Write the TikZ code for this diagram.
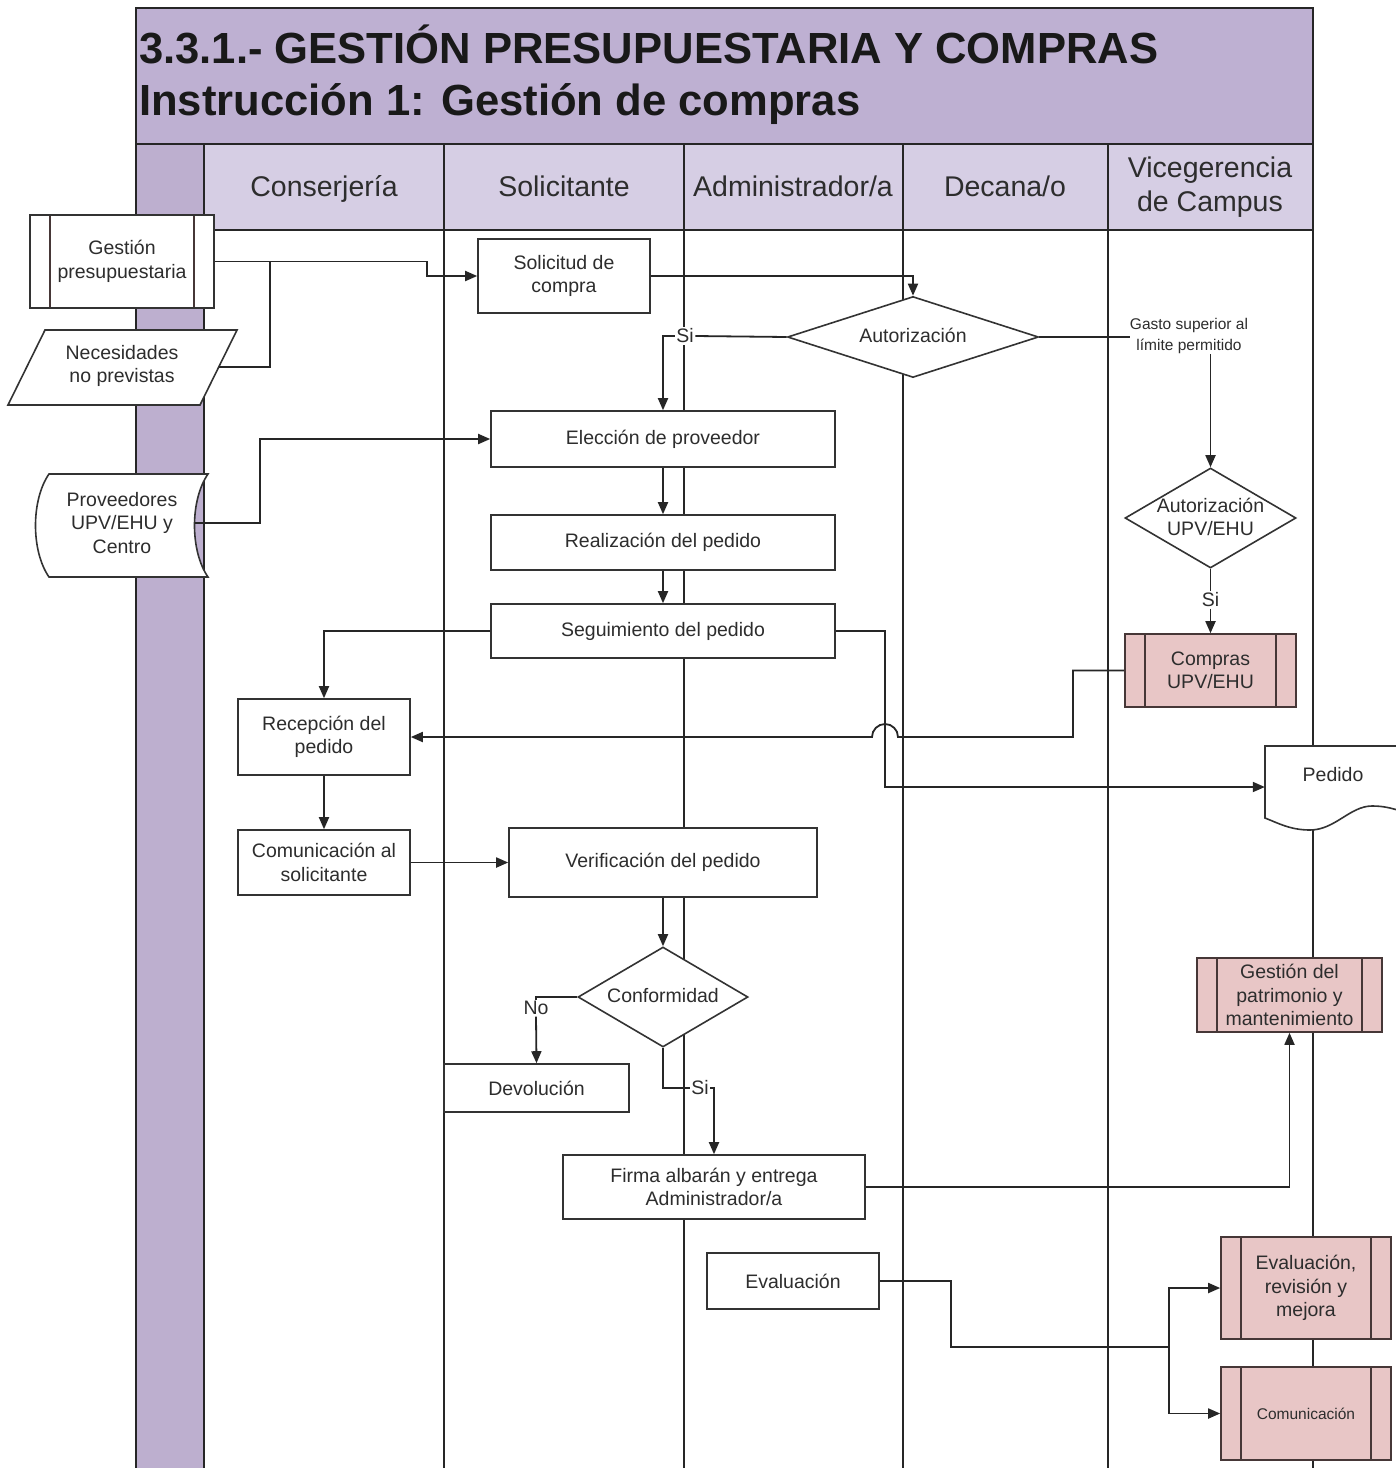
\documentclass[tikz,border=0pt]{standalone}
\usepackage{fontspec}
\setmainfont{Liberation Sans}
\usetikzlibrary{arrows.meta,shapes.geometric,calc}
\definecolor{titlebg}{RGB}{190,176,210}
\definecolor{headbg}{RGB}{214,206,228}
\definecolor{stripbg}{RGB}{189,175,207}
\definecolor{pinkbg}{RGB}{232,198,198}
\definecolor{pinkln}{RGB}{70,55,55}
\definecolor{txt}{RGB}{45,45,45}
\newcommand\boxfont{\fontsize{19.5}{23.5}\selectfont}
\newcommand\smallboxfont{\fontsize{15.5}{21.5}\selectfont}
\newcommand\headfont{\fontsize{28.5}{34}\selectfont}
\newcommand\titlefont{\fontsize{43.6}{52}\selectfont\bfseries}
\tikzset{
  frameline/.style={line width=2.4pt, draw=black!85},
  laneline/.style={line width=2pt, draw=black!85},
  box/.style={draw=black!80, line width=1.6pt, fill=white, align=center,
              inner sep=0pt, font=\boxfont, text=txt},
  ppbox/.style={box, fill=pinkbg, draw=pinkln,
    path picture={\draw[line width=1.6pt, pinkln]
      ([xshift=20pt]path picture bounding box.north west) -- ([xshift=20pt]path picture bounding box.south west)
      ([xshift=-20pt]path picture bounding box.north east) -- ([xshift=-20pt]path picture bounding box.south east);}},
  ppwhite/.style={ppbox, fill=white, draw=black!80},
  dia/.style={diamond, draw=black!80, line width=1.6pt, fill=white, inner sep=0pt},
  lbl/.style={font=\boxfont, text=txt, align=center, inner sep=1.5pt, fill=white},
  hd/.style={font=\headfont, text=txt, align=center, inner sep=0pt},
  conn/.style={line width=1.8pt, draw=black!85},
  arr/.style={conn, -{Triangle[length=12pt,width=10pt]}},
  ghost/.style={inner sep=0pt, draw=none}
}
\begin{document}
\begin{tikzpicture}[x=1pt,y=-1pt]
\clip (0,0) rectangle (1396,1468);
\fill[white] (0,0) rectangle (1396,1468);
% bands
\fill[titlebg] (136,8) rectangle (1313,144);
\fill[headbg] (204,144) rectangle (1313,230);
\fill[stripbg] (136,144) rectangle (204,1468);
\draw[frameline] (136,1470) -- (136,8) -- (1313,8) -- (1313,1470);
\draw[frameline] (136,144) -- (1313,144);
\draw[frameline] (204,230) -- (1313,230);
\foreach \x in {204,444,684,903,1108} \draw[laneline] (\x,144) -- (\x,1470);
% titles
\node[anchor=base west, inner sep=0pt, font=\titlefont, text=black!90] (t1) at (139,63) {3.3.1.- GESTIÓN PRESUPUESTARIA Y COMPRAS};
\node[anchor=base west, inner sep=0pt, font=\titlefont, text=black!90] (t2) at (139,115) {Instrucción 1: Gestión de compras};
% headers
\node[hd, anchor=base] (h1) at (324,196) {Conserjería};
\node[hd, anchor=base] (h2) at (564,196) {Solicitante};
\node[hd, anchor=base] (h3) at (793,196) {Administrador/a};
\node[hd, anchor=base] (h4) at (1005,196) {Decana/o};
\node[hd] (h5) at (1210,187) {Vicegerencia\\de Campus};
% left inputs
\node[ppwhite, minimum width=184pt, minimum height=93pt] (gp) at (122,261.5) {Gestión\\presupuestaria};
\draw[box] (45,330) -- (237,330) -- (200,405) -- (8,405) -- cycle;
\node[ghost, minimum width=193pt, minimum height=20pt] (nec) at (122,367) {};
\node[font=\boxfont, text=txt, align=center] (nect) at (122,366) {Necesidades\\no previstas};
\draw[box] (49,474) -- (208,474) .. controls (190,500) and (190,551) .. (208,577) -- (49,577) .. controls (31,551) and (31,500) .. (49,474) -- cycle;
\node[ghost, minimum width=146pt, minimum height=20pt] (prov) at (122,523) {};
\node[font=\boxfont, text=txt, align=center] (provt) at (122,523) {Proveedores\\UPV/EHU y\\Centro};
% process boxes
\node[box, minimum width=172pt, minimum height=74pt] (sol) at (564,276) {Solicitud de\\compra};
\node[dia, minimum width=251pt, minimum height=81pt] (aut) at (913,337) {};
\node[font=\boxfont, text=txt] (autt) at (913,335) {Autorización};
\node[box, minimum width=344pt, minimum height=56pt] (elec) at (663,439) {Elección de proveedor};
\node[box, minimum width=344pt, minimum height=55pt] (real) at (663,542.5) {Realización del pedido};
\node[box, minimum width=344pt, minimum height=54pt] (seg) at (663,631) {Seguimiento del pedido};
\node[box, minimum width=172pt, minimum height=76pt] (rec) at (324,737) {Recepción del\\pedido};
\node[box, minimum width=172pt, minimum height=65pt] (com) at (324,862.5) {Comunicación al\\solicitante};
\node[box, minimum width=308pt, minimum height=69pt] (ver) at (663,862.5) {Verificación del pedido};
\node[dia, minimum width=170pt, minimum height=100pt] (conf) at (663,997) {};
\node[font=\boxfont, text=txt] (conft) at (663,996) {Conformidad};
\node[box, minimum width=185pt, minimum height=48pt] (dev) at (536.5,1088) {Devolución};
\node[box, minimum width=302pt, minimum height=64pt] (firma) at (714,1187) {Firma albarán y entrega\\Administrador/a};
\node[box, minimum width=172pt, minimum height=56pt] (eval) at (793,1281) {Evaluación};
% right column
\node[font=\smallboxfont, text=txt, align=center, inner sep=0pt] (gasto) at (1189,336) {Gasto superior al\\límite permitido};
\node[dia, minimum width=171pt, minimum height=100pt] (aut2) at (1210.5,518) {};
\node[font=\boxfont, text=txt, align=center] (aut2t) at (1210.5,517) {Autorización\\UPV/EHU};
\node[ppbox, minimum width=171pt, minimum height=73pt] (comp) at (1210.5,670.5) {Compras\\UPV/EHU};
\draw[box] (1265,746) -- (1420,746) -- (1420,818) .. controls (1400,811) and (1390,806) .. (1372,806) .. controls (1350,806) and (1335,830) .. (1310,830) .. controls (1290,830) and (1278,823) .. (1265,818) -- cycle;
\node[ghost, minimum width=150pt, minimum height=82pt] (pedido) at (1340,787) {};
\node[font=\boxfont, text=txt] (pedidot) at (1333,775) {Pedido};
\node[ppbox, minimum width=185pt, minimum height=74pt] (pat) at (1289.5,995) {Gestión del\\patrimonio y\\mantenimiento};
\node[ppbox, minimum width=170pt, minimum height=102pt] (evr) at (1306,1288) {Evaluación,\\revisión y\\mejora};
\node[ppbox, minimum width=170pt, minimum height=93pt, font=\smallboxfont] (comu) at (1306,1413.5) {Comunicación};
% labels
\node[lbl] (si1) at (685,336) {Si};
\node[lbl] (si2) at (1210.5,600) {Si};
\node[lbl] (no) at (536,1008) {No};
\node[lbl] (si3) at (700,1088) {Si};
% connectors
\coordinate (j1) at (270,261.5);
\draw[arr] (gp.east) -- (427,261.5) |- (sol.west);
\draw[conn] (nec.east) -| (j1);
\draw[arr] (sol.east) -| (aut.north);
\draw[conn] (aut.west) -- (si1.east);
\draw[arr] (si1.west) -| (elec.north);
\draw[conn] (aut.east) -- (gasto.west |- aut.east);
\draw[arr] (gasto.south -| aut2.north) -- (aut2.north);
\draw[conn] (aut2.south) -- (si2.north);
\draw[arr] (si2.south) -- (comp.north);
\draw[arr] (prov.east) -- (260,523) |- (elec.west);
\draw[arr] (elec.south) -- (real.north);
\draw[arr] (real.south) -- (seg.north);
\draw[arr] (seg.west) -| (rec.north);
\draw[arr] (seg.east) -- (885,631) -- (885,787) -- (pedido.west);
\draw[arr] (comp.west) -- (1073,670.5) -- (1073,737) -- (898,737) arc[start angle=0, end angle=-180, radius=13] -- (rec.east);
\draw[arr] (rec.south) -- (com.north);
\draw[arr] (com.east) -- (ver.west);
\draw[arr] (ver.south) -- (conf.north);
\draw[conn] (conf.west) -| (no.north);
\draw[arr] (no.south) -- (dev.north);
\draw[conn] (conf.south) |- (si3.west);
\draw[arr] (si3.east) -| (firma.north);
\draw[arr] (firma.east) -| (pat.south);
\coordinate (j2) at (1169,1347);
\draw[conn] (eval.east) -- (951,1281) |- (j2);
\draw[arr] (j2) |- (evr.west);
\draw[arr] (j2) |- (comu.west);
\end{tikzpicture}
\end{document}
